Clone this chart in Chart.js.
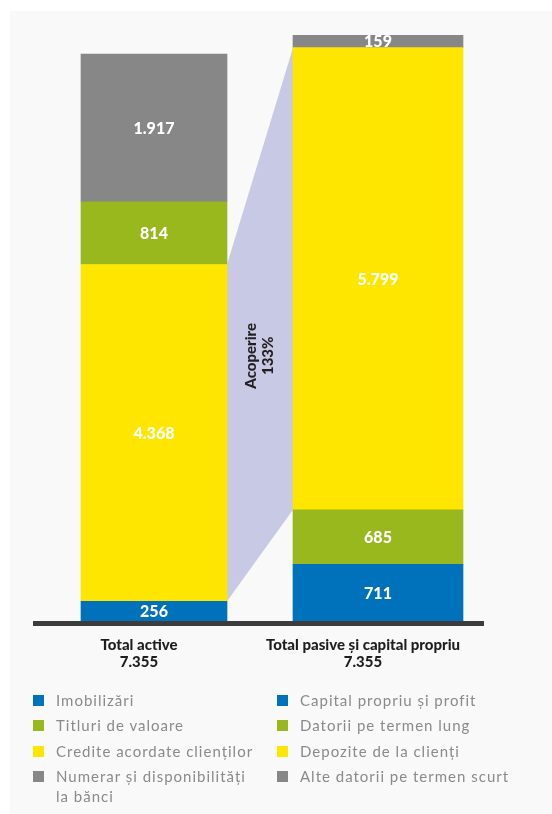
<!DOCTYPE html>
<html>
<head>
<meta charset="utf-8">
<script src="https://cdn.jsdelivr.net/npm/chart.js@4.4.1/dist/chart.umd.min.js"></script>
<style>
  html, body { margin: 0; padding: 0; background: #ffffff; }
  body { width: 552px; height: 814px; position: relative; overflow: hidden; font-family: Lato, "Open Sans", sans-serif; }
  #panel { position: absolute; left: 10px; top: 11px; right: 0; bottom: 0; background: #f9f9f9; }
  #chart { position: absolute; left: 0; top: 0; }
  #legend { position: absolute; left: 0; top: 690px; width: 552px; }
  .col { position: absolute; top: 0; }
  .item { display: flex; align-items: flex-start; margin-bottom: 5.4px; }
  .sw { width: 11px; height: 11px; flex: none; margin-top: 5px; }
  .txt { font-size: 15px; line-height: 20px; color: #8a8a8a; letter-spacing: 1px; }
</style>
</head>
<body>
<div id="panel"></div>
<canvas id="chart" width="552" height="700"></canvas>
<div id="legend"></div>
<script>
const categories = [["Total active", "7.355"], ["Total pasive și capital propriu", "7.355"]];

const activeNames = ["Imobilizări", "Titluri de valoare", "Credite acordate clienților", "Numerar și disponibilități la bănci"];
const activeValues = [256, 814, 4368, 1917];
const activeStack = [0, 2, 1, 3]; // bottom to top

const passiveNames = ["Capital propriu și profit", "Datorii pe termen lung", "Depozite de la clienți", "Alte datorii pe termen scurt"];
const passiveValues = [711, 685, 5799, 159];
const passiveStack = [0, 1, 2, 3];

const coverLabel = ["Acoperire", "133%"];

const colors = ["#0072bc", "#98b81d", "#ffe600", "#878787"];
const boldFont = "900 16px Lato, 'Open Sans', sans-serif";

function fmt(v) {
  return String(v).replace(/\B(?=(\d{3})+(?!\d))/g, ".");
}

const datasets = [];
activeStack.forEach((i) => {
  datasets.push({
    label: activeNames[i],
    data: [activeValues[i], null],
    backgroundColor: colors[i],
    yAxisID: "y",
    barThickness: 146,
  });
});
passiveStack.forEach((i) => {
  datasets.push({
    label: passiveNames[i],
    data: [null, passiveValues[i]],
    backgroundColor: colors[i],
    yAxisID: "y2",
    barThickness: 170,
  });
});

const creditIdx = datasets.findIndex((d) => d.label === activeNames[2]);
const depositIdx = datasets.findIndex((d) => d.label === passiveNames[2]);

const coverPlugin = {
  id: "cover",
  beforeDatasetsDraw(chart) {
    const a = chart.getDatasetMeta(creditIdx).data[0];
    const b = chart.getDatasetMeta(depositIdx).data[1];
    const ax = a.x + a.width / 2;
    const bx = b.x - b.width / 2;
    const ctx = chart.ctx;
    ctx.save();
    ctx.fillStyle = "#c8c9e4";
    ctx.beginPath();
    ctx.moveTo(ax, a.y);
    ctx.lineTo(bx, b.y);
    ctx.lineTo(bx, b.base);
    ctx.lineTo(ax, a.base);
    ctx.closePath();
    ctx.fill();
    ctx.restore();
  },
  afterDatasetsDraw(chart) {
    const ctx = chart.ctx;
    const a = chart.getDatasetMeta(creditIdx).data[0];
    const b = chart.getDatasetMeta(depositIdx).data[1];
    const cx = (a.x + a.width / 2 + b.x - b.width / 2) / 2;
    const cy = (a.y + a.base + b.y + b.base) / 4;
    ctx.save();
    ctx.translate(cx, cy);
    ctx.rotate(-Math.PI / 2);
    ctx.fillStyle = "#231f20";
    ctx.font = "900 15px Lato, 'Open Sans', sans-serif";
    ctx.textAlign = "center";
    ctx.textBaseline = "middle";
    ctx.fillText(coverLabel[0], 0, -8.5);
    ctx.fillText(coverLabel[1], 0, 8.5);
    ctx.restore();

    // value labels
    ctx.save();
    ctx.fillStyle = "#ffffff";
    ctx.font = boldFont;
    ctx.textAlign = "center";
    ctx.textBaseline = "middle";
    chart.data.datasets.forEach((ds, di) => {
      chart.getDatasetMeta(di).data.forEach((bar, i) => {
        const v = ds.data[i];
        if (v == null) return;
        ctx.fillText(fmt(v), bar.x, (bar.y + bar.base) / 2 + 1);
      });
    });
    ctx.restore();

    // base line
    const area = chart.chartArea;
    ctx.save();
    ctx.strokeStyle = "#3c3c3c";
    ctx.lineWidth = 5;
    ctx.beginPath();
    ctx.moveTo(area.left - 9, area.bottom + 2.5);
    ctx.lineTo(area.right - 6, area.bottom + 2.5);
    ctx.stroke();
    ctx.restore();
  },
};

new Chart(document.getElementById("chart"), {
  type: "bar",
  data: { labels: categories, datasets },
  options: {
    responsive: false,
    animation: false,
    devicePixelRatio: 1,
    layout: { padding: { top: 35, left: 42, right: 62, bottom: 19 } },
    plugins: { legend: { display: false }, tooltip: { enabled: false } },
    scales: {
      x: {
        stacked: true,
        grid: { display: false, drawTicks: false },
        border: { display: false },
        ticks: {
          color: "#1e1e1e",
          font: { family: "Lato, 'Open Sans', sans-serif", weight: "900", size: 15, lineHeight: 1.13 },
          padding: 16,
          labelOffset: -15,
          maxRotation: 0,
          autoSkip: false,
        },
        afterFit(s) { s.height = 60; },
      },
      y: { stacked: true, display: false, min: 0, max: 7601 },
      y2: { stacked: true, display: false, min: 0, max: 7354 },
    },
  },
  plugins: [coverPlugin],
});

// legend
const legend = document.getElementById("legend");
function column(names, left, width) {
  const col = document.createElement("div");
  col.className = "col";
  col.style.left = left + "px";
  names.forEach((n, i) => {
    const item = document.createElement("div");
    item.className = "item";
    const sw = document.createElement("div");
    sw.className = "sw";
    sw.style.background = colors[i];
    sw.style.marginRight = "12px";
    const t = document.createElement("div");
    t.className = "txt";
    t.style.width = width + "px";
    t.textContent = n;
    item.appendChild(sw);
    item.appendChild(t);
    col.appendChild(item);
  });
  legend.appendChild(col);
}
column(activeNames, 33, 200);
column(passiveNames, 277, 265);
</script>
</body>
</html>
